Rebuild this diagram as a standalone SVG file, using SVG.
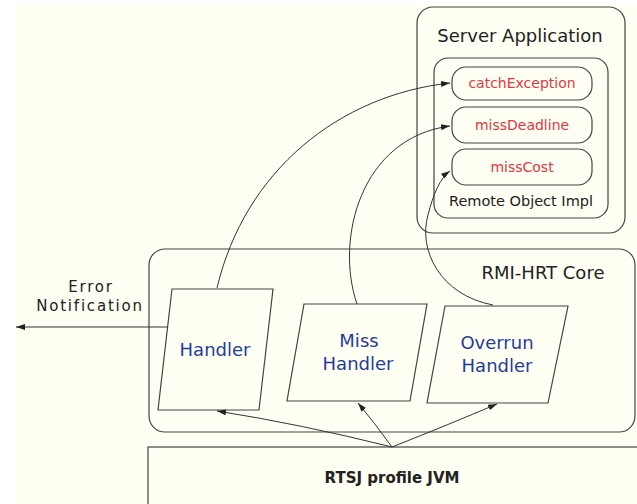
<svg xmlns="http://www.w3.org/2000/svg" width="637" height="504" viewBox="0 0 637 504">
<style>
.box{fill:none;stroke:#444;stroke-width:1.2}
.pill{fill:#fffff4;stroke:#444;stroke-width:1.2}
.para{fill:#fffff4;stroke:#444;stroke-width:1.2}
.conn{fill:none;stroke:#333;stroke-width:1}
.t{font-family:"DejaVu Sans","Liberation Sans",sans-serif;text-anchor:middle}
.blk{fill:#222}
.red{fill:#e8343f;font-size:14px}
.blue{fill:#1f3c9c;font-size:18px}
</style>
<defs>
<marker id="ah" markerWidth="9" markerHeight="6" refX="9" refY="3" orient="auto" markerUnits="userSpaceOnUse">
<path d="M0,0 L9,3 L0,6 Z" fill="#222"/>
</marker>
</defs>
<rect x="0" y="0" width="637" height="504" fill="#ffffff"/>
<rect x="15" y="5" width="622" height="499" fill="#fffff3"/>

<g id="server-application">
<rect class="box" x="417" y="7" width="208" height="226" rx="16"/>
<text class="t blk" x="520" y="42" font-size="18">Server Application</text>
</g>
<g id="remote-object-impl">
<rect class="box" x="434" y="58" width="174" height="160" rx="14"/>
<text class="t blk" x="521" y="206" font-size="14.5">Remote Object Impl</text>
</g>
<g id="catchException">
<rect class="pill" x="452" y="67" width="140" height="33" rx="14"/>
<text class="t red" x="522" y="88">catchException</text>
</g>
<g id="missDeadline">
<rect class="pill" x="452" y="107" width="140" height="36" rx="14"/>
<text class="t red" x="522" y="130">missDeadline</text>
</g>
<g id="missCost">
<rect class="pill" x="452" y="149" width="140" height="36" rx="14"/>
<text class="t red" x="522" y="172">missCost</text>
</g>

<g id="rmi-hrt-core">
<rect class="box" x="149" y="249" width="486" height="183" rx="16"/>
<text class="t blk" x="543" y="279" font-size="18">RMI-HRT Core</text>
</g>
<g id="handler">
<polygon class="para" points="172,289 273,289 259,410 158,410"/>
<text class="t blue" x="215" y="356">Handler</text>
</g>
<g id="miss-handler">
<polygon class="para" points="304,304 427,304 410,401 287,401"/>
<text class="t blue" x="359" y="347">Miss</text>
<text class="t blue" x="358" y="370">Handler</text>
</g>
<g id="overrun-handler">
<polygon class="para" points="445,306 568,306 548,403 427,403"/>
<text class="t blue" x="497" y="349">Overrun</text>
<text class="t blue" x="497" y="372">Handler</text>
</g>

<g id="rtsj-jvm">
<rect class="box" x="148" y="447" width="500" height="70"/>
<text class="t blk" x="392" y="483" font-size="15" font-weight="bold">RTSJ profile JVM</text>
</g>

<g id="error-notification-label">
<text class="t" x="91" y="292" font-size="15" letter-spacing="1.8" fill="#222">Error</text>
<text class="t" x="90" y="311" font-size="15" letter-spacing="1.8" fill="#222">Notification</text>
</g>

<g id="connectors">
<line class="conn" x1="168" y1="327" x2="16" y2="327" stroke-width="1.6" marker-end="url(#ah)"/>
<path class="conn" d="M217,288 C245,170 340,95 450,83" marker-end="url(#ah)"/>
<path class="conn" d="M357,304 C335,240 360,138 450,126" marker-end="url(#ah)"/>
<path class="conn" d="M493,305 C440,295 418,250 428,215 C433,195 440,178 450,171" marker-end="url(#ah)"/>
<path class="conn" d="M392,447 Q300,424 217,411" marker-end="url(#ah)"/>
<path class="conn" d="M392,447 Q374,422 358,403" marker-end="url(#ah)"/>
<path class="conn" d="M392,447 Q450,424 497,404" marker-end="url(#ah)"/>
</g>
</svg>
